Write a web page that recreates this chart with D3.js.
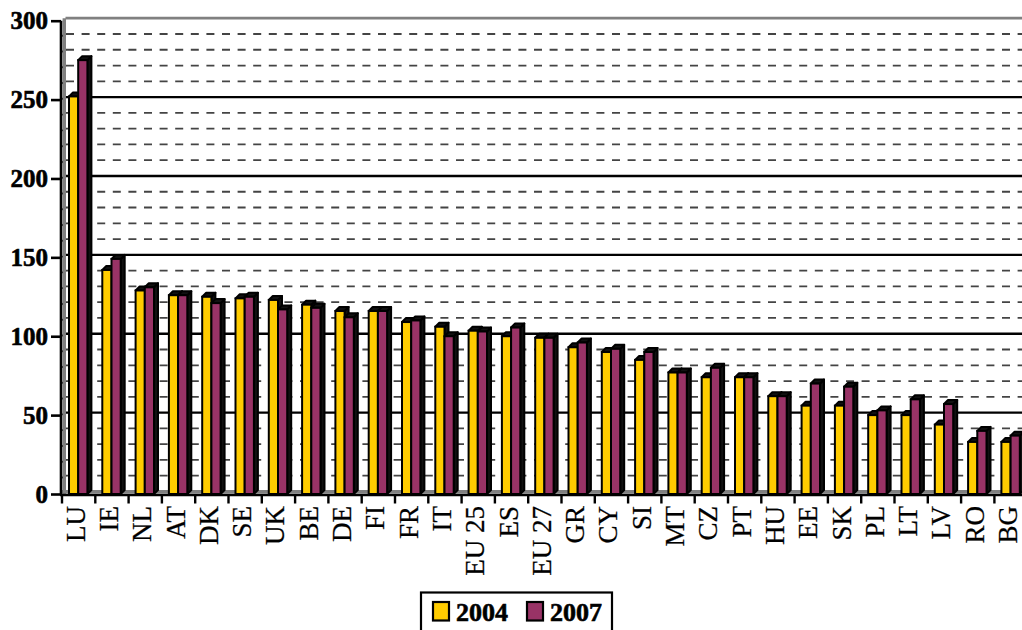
<!doctype html>
<html lang="en">
<head>
<meta charset="utf-8">
<title>GDP per capita 2004 / 2007</title>
<script src="https://cdn.jsdelivr.net/npm/d3@7"></script>
<style>
    body { margin: 0; background: #fff; }
    svg text { font-family: "Liberation Serif", "Times New Roman", serif; }
</style>
</head>
<body>
<svg width="1022" height="630"></svg>
<script>
    var countries = ["LU","IE","NL","AT","DK","SE","UK","BE","DE","FI","FR","IT","EU 25","ES","EU 27",
                     "GR","CY","SI","MT","CZ","PT","HU","EE","SK","PL","LT","LV","RO","BG"];
    var v2004 = [252,142,129,126,125,124,123,120,116,116,109,106,103.5,100,99,
                 93,90,85,77,74,74,62,56,56,50,50,44,33,33];
    var v2007 = [275,149,131,126,121,125,117,118,112,116,110,100,103,105.5,99,
                 96,92,90,77,80,74,62,70,68,53,60,57,40,37];
    var series = ["2004","2007"];
    var colors = ["#FFCC00","#993366"];
    var yTicks = [0,50,100,150,200,250,300];

    var svg = d3.select("svg");

    // front scales (bars, axes); the back wall sits a little up/right
    var x = d3.scaleBand()
        .domain(countries)
        .range([62, 62 + 29 * 33.3]);

    var y = d3.scaleLinear()
        .domain([0, 300])
        .range([494, 20.7]);

    var dx = 4, dy = 2.5;   // depth of the wall
    var bw = 9.2, off = 7;  // bar width, offset inside band
    var bdx = 4, bdy = 4;   // bar depth

    // back wall gridlines
    var minor = d3.range(10, 300, 10).filter(function(d) { return d % 50 != 0; });
    var major = [50,100,150,200,250];

    svg.append("g").selectAll("line")
        .data(minor)
        .enter().append("line")
        .attr("x1", 62 + dx).attr("x2", 1022)
        .attr("y1", function(d) { return y(d) - dy; })
        .attr("y2", function(d) { return y(d) - dy; })
        .attr("stroke", "#444")
        .attr("stroke-width", 1.8)
        .attr("stroke-dasharray", "8,7.6");

    svg.append("g").selectAll("line")
        .data(major)
        .enter().append("line")
        .attr("x1", 62 + dx).attr("x2", 1022)
        .attr("y1", function(d) { return y(d) - dy; })
        .attr("y2", function(d) { return y(d) - dy; })
        .attr("stroke", "#000")
        .attr("stroke-width", 2.4);

    // side wall ticks joining the axis to the back wall
    svg.append("g").selectAll("line")
        .data(d3.range(10, 300, 10))
        .enter().append("line")
        .attr("x1", 61).attr("x2", 62 + dx)
        .attr("y1", function(d) { return y(d); })
        .attr("y2", function(d) { return y(d) - dy; })
        .attr("stroke", "#222")
        .attr("stroke-width", 1.6);

    // wall edges (grey)
    svg.append("line")
        .attr("x1", 62 + dx - 0.5).attr("x2", 1022)
        .attr("y1", y(300) - dy).attr("y2", y(300) - dy)
        .attr("stroke", "#808080").attr("stroke-width", 2.8);
    svg.append("line")
        .attr("x1", 64.3).attr("x2", 64.3)
        .attr("y1", y(300) - dy).attr("y2", y(0))
        .attr("stroke", "#808080").attr("stroke-width", 3.4);
    svg.append("rect")
        .attr("x", 62).attr("y", y(0) - 4)
        .attr("width", 960).attr("height", 3.5)
        .attr("fill", "#808080");

    // bars
    var bars = svg.append("g")
        .selectAll("g")
        .data(countries)
        .enter().append("g");

    series.forEach(function(s, k) {
        var vals = k == 0 ? v2004 : v2007;
        var bx = function(d) { return x(d) + off + k * bw; };
        var by = function(d, i) { return y(vals[i]); };

        // side face
        bars.append("path")
            .attr("d", function(d, i) {
                var x0 = bx(d) + bw, t = by(d, i);
                return "M" + x0 + "," + t + "L" + (x0 + bdx) + "," + (t - bdy) +
                       "L" + (x0 + bdx) + "," + (y(0) - bdy) + "L" + x0 + "," + y(0) + "Z";
            })
            .attr("fill", "#111")
            .attr("stroke", "#000")
            .attr("stroke-width", 2)
            .attr("stroke-linejoin", "round");

        // top face
        bars.append("path")
            .attr("d", function(d, i) {
                var x0 = bx(d), t = by(d, i);
                return "M" + x0 + "," + t + "L" + (x0 + bdx) + "," + (t - bdy) +
                       "L" + (x0 + bw + bdx) + "," + (t - bdy) + "L" + (x0 + bw) + "," + t + "Z";
            })
            .attr("fill", "#111")
            .attr("stroke", "#000")
            .attr("stroke-width", 2)
            .attr("stroke-linejoin", "round");

        // front face
        bars.append("rect")
            .attr("x", bx)
            .attr("y", by)
            .attr("width", bw)
            .attr("height", function(d, i) { return y(0) - by(d, i); })
            .attr("fill", colors[k])
            .attr("stroke", "#000")
            .attr("stroke-width", 2);
    });

    // y axis
    var yAxis = svg.append("g")
        .attr("transform", "translate(61,0)")
        .call(d3.axisLeft(y).tickValues(yTicks).tickSize(10).tickPadding(3));
    yAxis.select(".domain").attr("stroke", "#000").attr("stroke-width", 2.6)
        .attr("d", "M0," + y(300) + "V" + (y(0) + 1));
    yAxis.selectAll(".tick line").attr("stroke", "#000").attr("stroke-width", 2.6);
    yAxis.selectAll(".tick text")
        .attr("fill", "#000")
        .attr("stroke", "#000")
        .attr("stroke-width", 0.6)
        .style("font-size", "25px")
        .style("font-weight", "bold");

    // x axis
    var xAxis = svg.append("g")
        .attr("transform", "translate(0," + 495 + ")");
    xAxis.append("line")
        .attr("x1", 60).attr("x2", 1022)
        .attr("y1", 0).attr("y2", 0)
        .attr("stroke", "#000").attr("stroke-width", 2.6);
    xAxis.selectAll("line.tk")
        .data(d3.range(0, 30))
        .enter().append("line")
        .attr("class", "tk")
        .attr("x1", function(d) { return 62 + d * x.bandwidth(); })
        .attr("x2", function(d) { return 62 + d * x.bandwidth(); })
        .attr("y1", 0).attr("y2", 8.5)
        .attr("stroke", "#000").attr("stroke-width", 2.4);
    xAxis.selectAll("text")
        .data(countries)
        .enter().append("text")
        .attr("transform", function(d) {
            return "translate(" + (x(d) + x.bandwidth() / 2 - 3.5) + ",11) rotate(-90)";
        })
        .attr("dy", "0.35em")
        .attr("text-anchor", "end")
        .attr("stroke", "#000")
        .attr("stroke-width", 0.25)
        .style("font-size", "27px")
        .text(function(d) { return d; });

    // legend
    var legend = svg.append("g");
    legend.append("rect")
        .attr("x", 421).attr("y", 592.5)
        .attr("width", 191).attr("height", 50)
        .attr("fill", "#fff")
        .attr("stroke", "#000")
        .attr("stroke-width", 2.2);

    var items = legend.selectAll("g")
        .data(series)
        .enter().append("g")
        .attr("transform", function(d, i) { return "translate(" + (433 + i * 94) + ",602)"; });
    items.append("rect")
        .attr("width", 16).attr("height", 18.5)
        .attr("fill", function(d, i) { return colors[i]; })
        .attr("stroke", "#000")
        .attr("stroke-width", 2.2);
    items.append("text")
        .attr("x", 23).attr("y", 9.5)
        .attr("dy", "0.35em")
        .attr("stroke", "#000")
        .attr("stroke-width", 0.6)
        .style("font-size", "26px")
        .style("font-weight", "bold")
        .text(function(d) { return d; });
</script>
</body>
</html>
